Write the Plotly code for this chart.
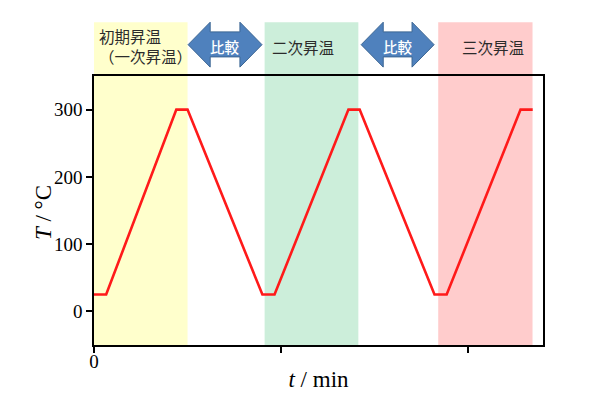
import plotly.graph_objects as go

# ---- data ----
t_points = [0, 6.5, 44, 50, 90, 96.5, 136, 142, 182, 188.5, 228, 234.5]
T_points = [25, 25, 300, 300, 25, 25, 300, 300, 25, 25, 300, 300]

band_names = ["初期昇温<br>（一次昇温）", "二次昇温", "三次昇温"]
band_starts = [0, 91.2, 184]
band_ends = [50, 141.3, 234.4]
band_colors = ["#FFFFCC", "#CCEEDA", "#FFCCCC"]

compare_arrows = [(50.3, 89.8), (142.8, 181.8)]
compare_label = "比較"

x_tickvals = [0, 100, 200]
x_ticktext = ["0", "", ""]
y_tickvals = [0, 100, 200, 300]

fig = go.Figure()
fig.add_trace(go.Scatter(x=t_points, y=T_points, mode="lines",
                         line=dict(color="#FF1A1A", width=2.6),
                         showlegend=False, hoverinfo="skip"))

shapes = []
for x0, x1, c in zip(band_starts, band_ends, band_colors):
    shapes.append(dict(type="rect", xref="x", yref="paper", x0=x0, x1=x1,
                       y0=0, y1=1.2, fillcolor=c, line=dict(width=0),
                       layer="below"))

# double-headed arrows
y_top, y_bot = 1.2, 1.033
s_top, s_bot = 1.164, 1.071
y_mid = (y_top + y_bot) / 2
head = 11.8
annotations = []
for a, b in compare_arrows:
    path = (f"M {a},{y_mid} L {a+head},{y_top} L {a+head},{s_top} "
            f"L {b-head},{s_top} L {b-head},{y_top} L {b},{y_mid} "
            f"L {b-head},{y_bot} L {b-head},{s_bot} L {a+head},{s_bot} "
            f"L {a+head},{y_bot} Z")
    shapes.append(dict(type="path", xref="x", yref="paper", path=path,
                       fillcolor="#4F81BD", line=dict(color="#3A6593", width=1),
                       layer="above"))
    annotations.append(dict(x=(a + b) / 2, y=1.109, xref="x", yref="paper",
                            text=compare_label, showarrow=False,
                            font=dict(family="Noto Sans CJK JP", size=14.5, color="white",
                                      weight=500),
                            xanchor="center", yanchor="middle"))

label_font = dict(family="Noto Sans CJK JP", size=15.5, color="#2b2b2b")
annotations.append(dict(x=1.5, y=1.11, xref="x", yref="paper", text=band_names[0],
                        showarrow=False, font=label_font, xanchor="left",
                        yanchor="middle", align="left"))
annotations.append(dict(x=111.8, y=1.109, xref="x", yref="paper", text=band_names[1],
                        showarrow=False, font=label_font, xanchor="center", yanchor="middle"))
annotations.append(dict(x=213.4, y=1.108, xref="x", yref="paper", text=band_names[2],
                        showarrow=False, font=label_font, xanchor="center", yanchor="middle"))

serif = "Liberation Serif"
# y-axis title placed as a rotated annotation for exact position
annotations.append(dict(x=-0.1136, y=0.494, xref="paper", yref="paper",
                        text="<i>T</i> / °C", textangle=-90, showarrow=False,
                        font=dict(family=serif, size=23, color="black"),
                        xanchor="center", yanchor="middle"))

fig.update_layout(
    width=592, height=405,
    margin=dict(l=86, r=57, t=68, b=68),
    paper_bgcolor="white", plot_bgcolor="rgba(0,0,0,0)",
    shapes=shapes, annotations=annotations,
    xaxis=dict(range=[0, 240], tickvals=x_tickvals, ticktext=x_ticktext,
               showgrid=False, zeroline=False, showline=True, mirror=True,
               linecolor="black", linewidth=1.5, ticks="outside", ticklen=6,
               tickwidth=1.5, tickcolor="black", ticklabelstandoff=-8,
               tickfont=dict(family=serif, size=19, color="black"),
               title=dict(text="<i>t</i> / min", standoff=0,
                          font=dict(family=serif, size=23, color="black"))),
    yaxis=dict(range=[-50, 350], tickvals=y_tickvals,
               showgrid=False, zeroline=False, showline=True, mirror=True,
               linecolor="black", linewidth=1.5, ticks="outside", ticklen=6,
               tickwidth=1.5, tickcolor="black",
               tickfont=dict(family=serif, size=19, color="black")),
)

fig.write_html("out.html")
